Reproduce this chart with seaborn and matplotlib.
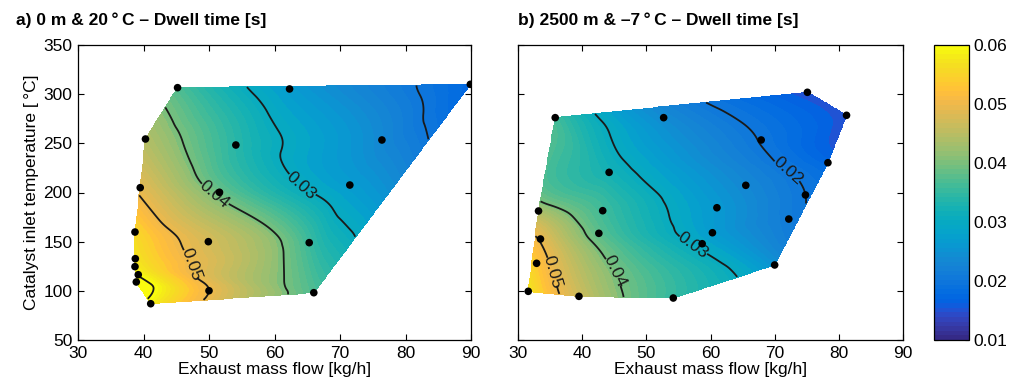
import numpy as np
import matplotlib
matplotlib.use("Agg")
import matplotlib.pyplot as plt
import matplotlib.tri as mtri
from matplotlib.colors import ListedColormap, Normalize
import seaborn as sns

# ---------------- data ----------------
a_flow = [45.2, 62.3, 89.9, 40.3, 54.1, 76.4, 39.5, 51.6, 71.5, 38.7,
          49.9, 65.3, 38.75, 38.7, 39.2, 38.9, 50.0, 66.0, 41.1]
a_temp = [306.6, 305.3, 310.0, 254.4, 248.3, 253.4, 204.9, 200.2, 207.6, 159.8,
          150.0, 149.0, 132.7, 124.6, 116.4, 109.0, 100.1, 98.1, 86.9]
a_dwell = [0.037, 0.027, 0.017, 0.044, 0.034, 0.0234, 0.049, 0.039, 0.027, 0.055,
           0.0474, 0.0355, 0.057, 0.058, 0.0595, 0.063, 0.050, 0.037, 0.058]

b_flow = [75.1, 81.2, 35.8, 52.7, 67.9, 78.3, 44.2, 65.5, 74.8, 33.2, 43.2,
          61.0, 72.2, 42.6, 60.3, 58.7, 33.5, 32.9, 31.6, 39.5, 54.2, 70.0]
b_temp = [301.9, 278.5, 276.1, 276.1, 253.4, 230.3, 220.5, 207.3, 197.5, 181.2, 181.5,
          184.5, 173.0, 158.5, 159.1, 147.9, 152.7, 128.0, 99.5, 94.4, 92.7, 126.3]
b_dwell = [0.015, 0.015, 0.036, 0.024, 0.0198, 0.017, 0.032, 0.0234, 0.020, 0.043, 0.036,
           0.0263, 0.021, 0.038, 0.027, 0.029, 0.0495, 0.053, 0.057, 0.0466, 0.035, 0.025]

titles = ["a) 0 m & 20\u2009°\u2009C \u2013 Dwell time [s]",
          "b) 2500 m & \u20137\u2009°\u2009C \u2013 Dwell time [s]"]
x_label = "Exhaust mass flow [kg/h]"
y_label = "Catalyst inlet temperature [\u2009°C]"
contour_levels = [0.02, 0.03, 0.04, 0.05, 0.06]
cbar_ticks = [0.01, 0.02, 0.03, 0.04, 0.05, 0.06]
x_ticks = [30, 40, 50, 60, 70, 80, 90]
y_ticks = [50, 100, 150, 200, 250, 300, 350]

# label placement hints (style)
a_label_pos = [(65, 213), (50, 192), (49, 128)]
b_label_pos = [(72, 222), (57, 144), (46, 122), (34.5, 118)]

# ---------------- parula colormap ----------------
parula_data = [[0.2081, 0.1663, 0.5292], [0.2116238095, 0.1897809524, 0.5776761905], [0.212252381, 0.2137714286, 0.6269714286], [0.2081, 0.2386, 0.6770857143], [0.1959047619, 0.2644571429, 0.7279], [0.1707285714, 0.2919380952, 0.779247619], [0.1252714286, 0.3242428571, 0.8302714286], [0.0591333333, 0.3598333333, 0.8683333333], [0.0116952381, 0.3875095238, 0.8819571429], [0.0059571429, 0.4086142857, 0.8828428571], [0.0165142857, 0.4266, 0.8786333333], [0.032852381, 0.4430428571, 0.8719571429], [0.0498142857, 0.4585714286, 0.8640571429], [0.0629333333, 0.4736904762, 0.8554380952], [0.0722666667, 0.4886666667, 0.8467], [0.0779428571, 0.5039857143, 0.8383714286], [0.079347619, 0.5200238095, 0.8311809524], [0.0749428571, 0.5375428571, 0.8262714286], [0.0640571429, 0.5569857143, 0.8239571429], [0.0487714286, 0.5772238095, 0.8228285714], [0.0343428571, 0.5965809524, 0.819852381], [0.0265, 0.6137, 0.8135], [0.0238904762, 0.6286619048, 0.8037619048], [0.0230904762, 0.6417857143, 0.7912666667], [0.0227714286, 0.6534857143, 0.7767571429], [0.0266619048, 0.6641952381, 0.7607190476], [0.0383714286, 0.6742714286, 0.743552381], [0.0589714286, 0.6837571429, 0.7253857143], [0.0843, 0.6928333333, 0.7061666667], [0.1132952381, 0.7015, 0.6858571429], [0.1452714286, 0.7097571429, 0.6646285714], [0.1801333333, 0.7176571429, 0.6424333333], [0.2178285714, 0.7250428571, 0.6192619048], [0.2586428571, 0.7317142857, 0.5954285714], [0.3021714286, 0.7376047619, 0.5711857143], [0.3481666667, 0.7424333333, 0.5472666667], [0.3952571429, 0.7459, 0.5244428571], [0.4420095238, 0.7480809524, 0.5033142857], [0.4871238095, 0.7490619048, 0.4839761905], [0.5300285714, 0.7491142857, 0.4661142857], [0.5708571429, 0.7485190476, 0.4493904762], [0.609852381, 0.7473142857, 0.4336857143], [0.6473, 0.7456, 0.4188], [0.6834190476, 0.7434761905, 0.4044333333], [0.7184095238, 0.7411333333, 0.3904761905], [0.7524857143, 0.7384, 0.3768142857], [0.7858428571, 0.7355666667, 0.3632714286], [0.8185047619, 0.7327333333, 0.3497904762], [0.8506571429, 0.7299, 0.3360285714], [0.8824333333, 0.7274333333, 0.3217], [0.9139333333, 0.7257857143, 0.3062761905], [0.9449571429, 0.7261142857, 0.2886428571], [0.9738952381, 0.7313952381, 0.266647619], [0.9937714286, 0.7454571429, 0.240347619], [0.9990428571, 0.7653142857, 0.2164142857], [0.9955333333, 0.7860571429, 0.196652381], [0.988, 0.8066, 0.1793666667], [0.9788571429, 0.8271428571, 0.1633142857], [0.9697, 0.8481380952, 0.147452381], [0.9625857143, 0.8705142857, 0.1309], [0.9588714286, 0.8949, 0.1132428571], [0.9598238095, 0.9218333333, 0.0948380952], [0.9661, 0.9514428571, 0.0755333333], [0.9763, 0.9831, 0.0538]]
parula = ListedColormap(parula_data, name="parula")
norm = Normalize(vmin=0.01, vmax=0.06)

FS = 12.5

# ---------------- style ----------------
sns.set_theme(style="white")
plt.rcParams["font.family"] = ["Liberation Sans", "DejaVu Sans"]
plt.rcParams["axes.linewidth"] = 0.9
plt.rcParams["axes.edgecolor"] = "black"
plt.rcParams["text.color"] = "black"
plt.rcParams["axes.labelcolor"] = "black"
plt.rcParams["xtick.color"] = "black"
plt.rcParams["ytick.color"] = "black"

fig = plt.figure(figsize=(10.18, 3.87), dpi=100)
H = 295 / 387
B = 47 / 387
ax_a = fig.add_axes([78 / 1018, B, 393 / 1018, H])
ax_b = fig.add_axes([518 / 1018, B, 385 / 1018, H])
cax = fig.add_axes([934 / 1018, B, 35 / 1018, H])


def panel(ax, xs, ys, vs, label_pos, show_y):
    xs = np.asarray(xs, float)
    ys = np.asarray(ys, float)
    vs = np.asarray(vs, float)
    tri = mtri.Triangulation(xs, ys)
    interp = mtri.CubicTriInterpolator(tri, vs, kind="min_E")
    gx = np.linspace(xs.min(), xs.max(), 400)
    gy = np.linspace(ys.min(), ys.max(), 400)
    GX, GY = np.meshgrid(gx, gy)
    GZ = interp(GX, GY)
    cf = ax.contourf(GX, GY, GZ, levels=np.linspace(0.01, 0.07, 73),
                     cmap=parula, norm=norm)
    cf.set_edgecolor("face")
    cf.set_linewidth(0.4)
    cs = ax.contour(GX, GY, GZ, levels=contour_levels, colors="k", linewidths=1.3)
    ax.clabel(cs, inline=True, fmt="%.2f", fontsize=FS, manual=label_pos, inline_spacing=4)
    sns.scatterplot(x=xs, y=ys, ax=ax, color="black", s=30, edgecolor="none",
                    legend=False, zorder=5)
    ax.set_xlim(30, 90)
    ax.set_ylim(50, 350)
    ax.set_xticks(x_ticks)
    ax.set_yticks(y_ticks)
    ax.tick_params(direction="in", length=4, width=0.8, top=True, right=True,
                   bottom=True, left=True, labelsize=FS, colors="black", pad=4)
    ax.set_xlabel(x_label, fontsize=FS, labelpad=1)
    if show_y:
        ax.set_ylabel(y_label, fontsize=FS, labelpad=3)
    else:
        ax.set_yticklabels([])
    for s in ax.spines.values():
        s.set_visible(True)
        s.set_color("black")


panel(ax_a, a_flow, a_temp, a_dwell, a_label_pos, True)
panel(ax_b, b_flow, b_temp, b_dwell, b_label_pos, False)

fig.text(16 / 1018, 1 - 20.5 / 387, titles[0], fontsize=FS, fontweight="bold",
         ha="left", va="center", color="black")
fig.text(518 / 1018, 1 - 20.5 / 387, titles[1], fontsize=FS, fontweight="bold",
         ha="left", va="center", color="black")

sm = plt.cm.ScalarMappable(norm=norm, cmap=parula)
cb = fig.colorbar(sm, cax=cax, ticks=cbar_ticks)
cb.ax.set_yticklabels([f"{t:.2f}" for t in cbar_ticks])
cb.ax.tick_params(direction="in", length=3, width=0.8, left=True, right=True,
                  labelsize=FS, colors="black")
cb.outline.set_linewidth(0.9)
cb.outline.set_edgecolor("black")

fig.savefig("out.png", dpi=100)
